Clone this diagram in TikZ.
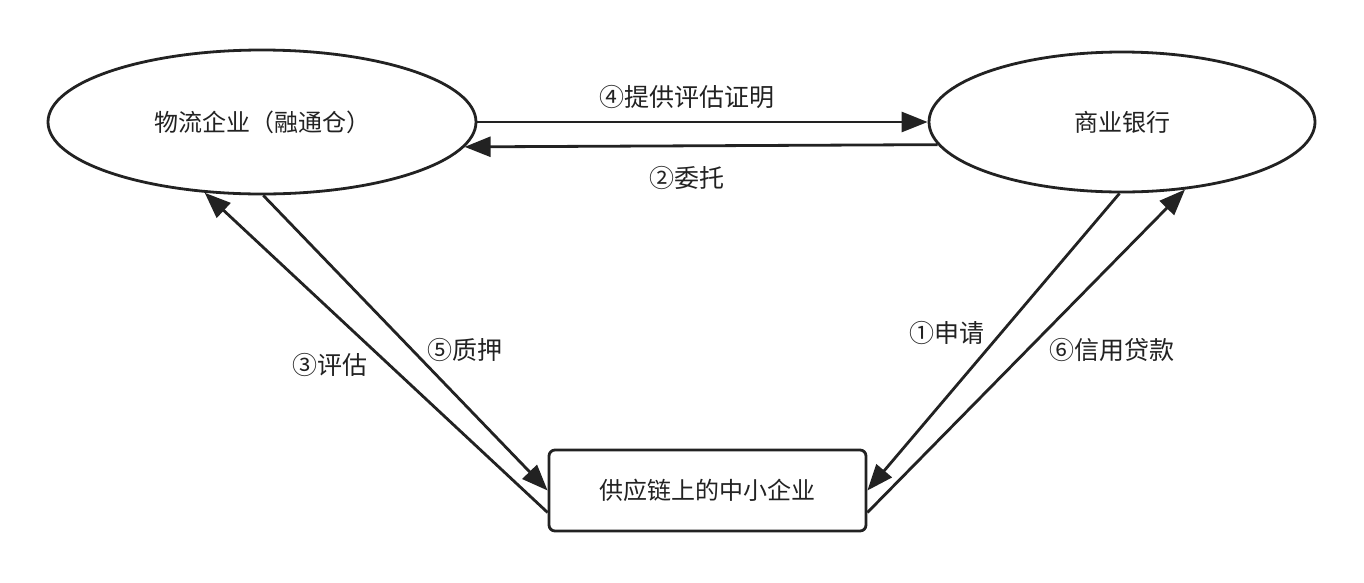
\documentclass[tikz,border=0pt]{standalone}
\usepackage{fontspec}
\newfontfamily\cjk{Noto Sans CJK SC}
\usetikzlibrary{shapes.geometric,arrows.meta,calc}
\definecolor{ink}{HTML}{222222}
\tikzset{
  ell/.style={draw=ink,line width=2.8pt,ellipse,inner sep=0pt,font=\cjk\fontsize{24}{28}\selectfont,text=ink},
  box/.style={draw=ink,line width=2.8pt,rectangle,rounded corners=6pt,inner sep=0pt,font=\cjk\fontsize{24}{28}\selectfont,text=ink},
  conn/.style={draw=ink,line width=2.8pt,-{Triangle[length=26pt,width=20pt]}},
  lbl/.style={font=\cjk\fontsize{25}{28}\selectfont,text=ink,inner sep=0pt}
}
\begin{document}
\begin{tikzpicture}[x=1pt,y=-1pt]
\useasboundingbox[fill=white] (0,0) rectangle (1364,582);
\node[ell,minimum width=428pt,minimum height=144pt] (L) at (262,122) {物流企业（融通仓）};
\node[ell,minimum width=386pt,minimum height=140pt] (R) at (1122,122) {商业银行};
\node[box,minimum width=317pt,minimum height=81pt] (B) at (707.5,490.5) {供应链上的中小企业};
% 4 and 2
\draw[conn] (L.east) -- (R.west);
\draw[conn] (R.187) -- (L.-7);
% 3 and 5
\draw[conn] ($(B.west)+(0,22)$) -- (L.231.5);
\draw[conn] (L.-89) -- (B.west);
% 1 and 6
\draw[conn] (R.268) -- (B.east);
\draw[conn] ($(B.east)+(0,22)$) -- (R.-47.3);
% labels
\node[lbl] (l4) at (687,97) {④提供评估证明};
\node[lbl] (l2) at (687,178) {②委托};
\node[lbl] (l3) at (330,365) {③评估};
\node[lbl] (l5) at (465,350) {⑤质押};
\node[lbl] (l1) at (947,333) {①申请};
\node[lbl] (l6) at (1112,350) {⑥信用贷款};
\end{tikzpicture}
\end{document}
